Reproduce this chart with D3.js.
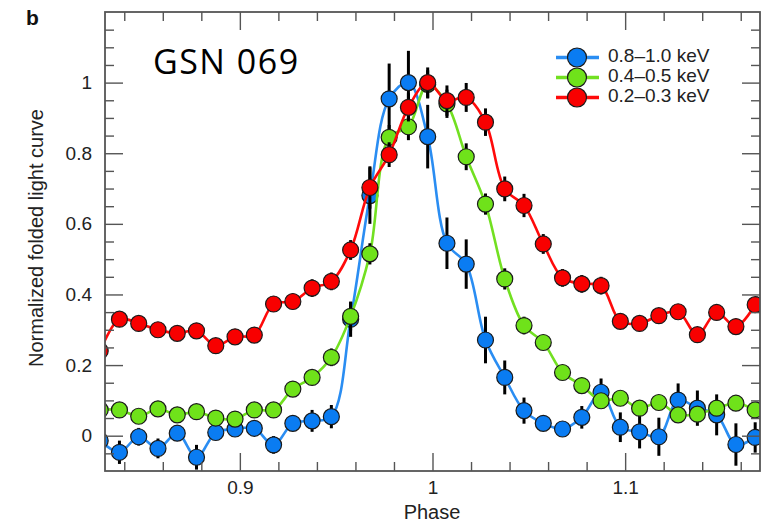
<!DOCTYPE html>
<html><head><meta charset="utf-8">
<script src="https://cdn.jsdelivr.net/npm/d3@7/dist/d3.min.js"></script>
<style>body{margin:0;background:#fff}svg{display:block}</style>
</head><body><svg id="c" width="767" height="522"></svg>
<script>
// ---- data ----
const phases = [0.8275, 0.8375, 0.8475, 0.8575, 0.8675, 0.8775, 0.8875, 0.8975, 0.9075, 0.9175,
  0.9275, 0.9375, 0.9475, 0.9575, 0.9675, 0.9775, 0.9875, 0.9975, 1.0075, 1.0175,
  1.0275, 1.0375, 1.0475, 1.0575, 1.0675, 1.0775, 1.0875, 1.0975, 1.1075, 1.1175,
  1.1275, 1.1375, 1.1475, 1.1575, 1.1675];
const seriesNames = ["0.8\u20131.0 keV", "0.4\u20130.5 keV", "0.2\u20130.3 keV"];
const blueVals = [-0.014, -0.047, -0.003, -0.036, 0.007, -0.061, 0.009, 0.019, 0.021, -0.026,
  0.035, 0.042, 0.054, 0.33, 0.68, 0.954, 1.0, 0.847, 0.545, 0.486,
  0.271, 0.165, 0.071, 0.035, 0.019, 0.052, 0.123, 0.024, 0.011, -0.003,
  0.101, 0.078, 0.059, -0.025, -0.005];
const blueErr = [0.03, 0.033, 0.025, 0.028, 0.022, 0.035, 0.02, 0.02, 0.02, 0.025,
  0.022, 0.031, 0.033, 0.05, 0.08, 0.1, 0.09, 0.09, 0.073, 0.07,
  0.066, 0.048, 0.037, 0.02, 0.02, 0.032, 0.039, 0.042, 0.047, 0.054,
  0.047, 0.05, 0.058, 0.06, 0.043];
const greenVals = [0.073, 0.073, 0.055, 0.076, 0.059, 0.068, 0.05, 0.047, 0.073, 0.073,
  0.132, 0.165, 0.222, 0.338, 0.515, 0.845, 0.875, 0.995, 0.94, 0.79,
  0.656, 0.444, 0.312, 0.264, 0.179, 0.142, 0.099, 0.106, 0.078, 0.094,
  0.059, 0.061, 0.078, 0.092, 0.073];
const greenErr = [0.02, 0.02, 0.02, 0.02, 0.02, 0.02, 0.02, 0.02, 0.02, 0.02,
  0.02, 0.02, 0.025, 0.04, 0.03, 0.035, 0.038, 0.04, 0.04, 0.038,
  0.03, 0.03, 0.025, 0.02, 0.02, 0.02, 0.02, 0.02, 0.02, 0.02,
  0.02, 0.02, 0.02, 0.02, 0.02];
const redVals = [0.24, 0.33, 0.318, 0.30, 0.29, 0.297, 0.255, 0.28, 0.285, 0.373,
  0.38, 0.418, 0.437, 0.526, 0.703, 0.796, 0.93, 1.0, 0.949, 0.958,
  0.888, 0.699, 0.652, 0.543, 0.447, 0.43, 0.425, 0.324, 0.318, 0.34,
  0.351, 0.286, 0.349, 0.309, 0.371];
const redErr = [0.02, 0.02, 0.02, 0.02, 0.02, 0.02, 0.02, 0.02, 0.02, 0.022,
  0.022, 0.025, 0.025, 0.028, 0.06, 0.035, 0.04, 0.043, 0.043, 0.041,
  0.039, 0.035, 0.033, 0.028, 0.025, 0.025, 0.025, 0.02, 0.02, 0.02,
  0.02, 0.02, 0.02, 0.02, 0.02];
const xMajorTicks = [0.9, 1.0, 1.1];
const xTickLabels = ["0.9", "1", "1.1"];
const xMinorTicks = [0.84, 0.86, 0.88, 0.92, 0.94, 0.96, 0.98, 1.02, 1.04, 1.06, 1.08, 1.12, 1.14, 1.16];
const yMajorTicks = [0, 0.2, 0.4, 0.6, 0.8, 1.0];
const yTickLabels = ["0", "0.2", "0.4", "0.6", "0.8", "1"];
const yMinorTicks = [-0.05, 0.05, 0.1, 0.15, 0.25, 0.3, 0.35, 0.45, 0.5, 0.55, 0.65, 0.7, 0.75, 0.85, 0.9, 0.95, 1.05, 1.1, 1.15];

// ---- layout ----
const L = 105, R = 760, T = 12, B = 471;
const svg = d3.select("#c");
const x = d3.scaleLinear().domain([0.83, 1.17]).range([L, R]);
const y = d3.scaleLinear().domain([-0.1, 1.2]).range([B, T]);
const axisCol = "#555", txtCol = "#222";
const tickFont = "19px 'Liberation Sans', Arial, sans-serif";

const series = [
  {name: seriesNames[0], vals: blueVals, err: blueErr, fill: "#0a7cf2", line: "#2a8df2"},
  {name: seriesNames[1], vals: greenVals, err: greenErr, fill: "#6fe21a", line: "#72e021"},
  {name: seriesNames[2], vals: redVals, err: redErr, fill: "#f80000", line: "#ff0a0a"}
];

svg.append("defs").append("clipPath").attr("id", "clip")
  .append("rect").attr("x", L).attr("y", T).attr("width", R - L).attr("height", B - T);

const plot = svg.append("g").attr("clip-path", "url(#clip)");
const lineGen = d3.line().x(d => x(d.p)).y(d => y(d.v)).curve(d3.curveCatmullRom.alpha(0.5));

series.forEach(s => {
  const pts = phases.map((p, i) => ({p, v: s.vals[i], e: s.err[i]}));
  const g = plot.append("g");
  g.append("path").datum(pts).attr("d", lineGen)
    .attr("fill", "none").attr("stroke", s.line).attr("stroke-width", 2.6);
  g.selectAll("line.err").data(pts).join("line")
    .attr("x1", d => x(d.p)).attr("x2", d => x(d.p))
    .attr("y1", d => y(d.v - d.e)).attr("y2", d => y(d.v + d.e))
    .attr("stroke", "#000").attr("stroke-width", 3);
  g.selectAll("circle").data(pts).join("circle")
    .attr("cx", d => x(d.p)).attr("cy", d => y(d.v)).attr("r", 8)
    .attr("fill", s.fill).attr("stroke", "#1a1a1a").attr("stroke-width", 1.2);
});

// ---- axes (ticks inward on all sides) ----
function styleAxis(g) {
  g.select(".domain").remove();
  g.selectAll(".tick line").attr("stroke", axisCol).attr("stroke-width", 1.4);
  g.selectAll(".tick text").attr("fill", txtCol).style("font", tickFont);
}
svg.append("g").attr("transform", `translate(0,${B})`)
  .call(d3.axisBottom(x).tickValues(xMinorTicks).tickSize(-9).tickFormat("")).call(styleAxis);
svg.append("g").attr("transform", `translate(0,${B})`)
  .call(d3.axisBottom(x).tickValues(xMajorTicks).tickSize(-18).tickPadding(10)
    .tickFormat((d, i) => xTickLabels[i])).call(styleAxis);
svg.append("g").attr("transform", `translate(0,${T})`)
  .call(d3.axisTop(x).tickValues(xMinorTicks).tickSize(-9).tickFormat("")).call(styleAxis);
svg.append("g").attr("transform", `translate(0,${T})`)
  .call(d3.axisTop(x).tickValues(xMajorTicks).tickSize(-18).tickFormat("")).call(styleAxis);
svg.append("g").attr("transform", `translate(${L},0)`)
  .call(d3.axisLeft(y).tickValues(yMinorTicks).tickSize(-9).tickFormat("")).call(styleAxis);
svg.append("g").attr("transform", `translate(${L},0)`)
  .call(d3.axisLeft(y).tickValues(yMajorTicks).tickSize(-18).tickPadding(13)
    .tickFormat((d, i) => yTickLabels[i])).call(styleAxis);
svg.append("g").attr("transform", `translate(${R},0)`)
  .call(d3.axisRight(y).tickValues(yMinorTicks).tickSize(-9).tickFormat("")).call(styleAxis);
svg.append("g").attr("transform", `translate(${R},0)`)
  .call(d3.axisRight(y).tickValues(yMajorTicks).tickSize(-18).tickFormat("")).call(styleAxis);

svg.append("rect").attr("x", L).attr("y", T).attr("width", R - L).attr("height", B - T)
  .attr("fill", "none").attr("stroke", axisCol).attr("stroke-width", 1.8);

// ---- titles ----
svg.append("text").attr("x", 432).attr("y", 519).attr("text-anchor", "middle")
  .attr("fill", txtCol).style("font", "20px 'Liberation Sans', Arial, sans-serif").text("Phase");
svg.append("text").attr("transform", "translate(42.5,238) rotate(-90)").attr("text-anchor", "middle")
  .attr("fill", txtCol).style("font", "20px 'Liberation Sans', Arial, sans-serif")
  .text("Normalized folded light curve");
svg.append("text").attr("x", 26).attr("y", 25).attr("fill", "#111")
  .style("font", "bold 21px 'Liberation Sans', Arial, sans-serif").text("b");
svg.append("text").attr("x", 153).attr("y", 74).attr("fill", "#000")
  .style("font", "34px 'Open Sans', sans-serif").style("letter-spacing", "1.5px").text("GSN 069");

// ---- legend ----
const leg = svg.append("g");
series.forEach((s, i) => {
  const cy = 57.5 + i * 20;
  leg.append("line").attr("x1", 556).attr("x2", 599).attr("y1", cy).attr("y2", cy)
    .attr("stroke", s.line).attr("stroke-width", 3.5);
  leg.append("circle").attr("cx", 577).attr("cy", cy).attr("r", 9.5)
    .attr("fill", s.fill).attr("stroke", "#1a1a1a").attr("stroke-width", 1.2);
  leg.append("text").attr("x", 608).attr("y", cy + 4.5).attr("fill", txtCol)
    .style("font", "19px 'Liberation Sans', Arial, sans-serif").text(s.name);
});
</script>
</body></html>
